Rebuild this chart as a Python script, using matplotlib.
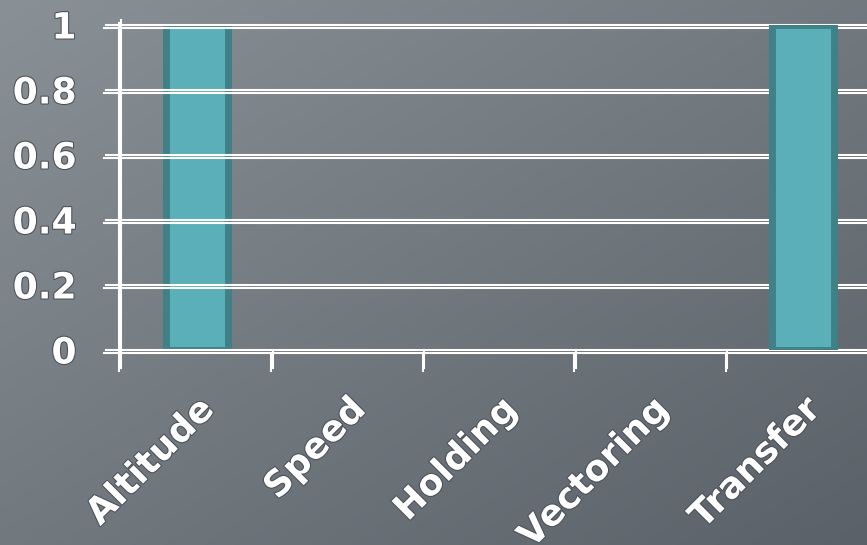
import numpy as np
import matplotlib.pyplot as plt
import matplotlib.patheffects as pe
from matplotlib.colors import LinearSegmentedColormap

categories = ["Altitude", "Speed", "Holding", "Vectoring", "Transfer"]
values = [1.0, 0.0, 0.0, 0.0, 1.0]
yticks = [0, 0.2, 0.4, 0.6, 0.8, 1]
ytick_labels = ["0", "0.2", "0.4", "0.6", "0.8", "1"]

fig = plt.figure(figsize=(8.67, 5.45), dpi=100)

# diagonal grey gradient behind everything
bg = fig.add_axes([0, 0, 1, 1], zorder=-10)
yy, xx = np.mgrid[0:1:200j, 0:1:300j]
shade = 0.5 * xx + 0.5 * yy
slate = LinearSegmentedColormap.from_list("slate", ["#899096", "#5a6168"])
bg.imshow(shade, cmap=slate, extent=[0, 1, 0, 1], aspect="auto", origin="upper")
bg.axis("off")

ax = fig.add_axes([121 / 867, 195 / 545, 758 / 867, 325 / 545])
ax.patch.set_alpha(0)

double = [pe.SimpleLineShadow(offset=(-1.2, -2.4), shadow_color="white", alpha=1.0), pe.Normal()]

x = np.arange(len(categories))
bars = ax.bar(x, values, width=0.41, color="#5aafb8", edgecolor="#3f8186", linewidth=5, zorder=2)
for b, v in zip(bars, values):
    b.set_visible(v > 0)
bars[-1].set_zorder(4)

for y in yticks:
    ax.plot([-0.6, len(categories) - 0.5], [y, y], color="white", lw=1.5, zorder=3,
            clip_on=False, path_effects=double)

ax.plot([-0.5, -0.5], [-0.055, 1.015], color="white", lw=1.5, zorder=3, clip_on=False,
        path_effects=double)
for b in np.arange(0.5, len(categories), 1.0):
    ax.plot([b, b], [-0.055, 0], color="white", lw=1.5, zorder=3, clip_on=False,
            path_effects=double)

ax.set_xlim(-0.5, len(categories) - 0.5)
ax.set_ylim(0, 1)
for s in ax.spines.values():
    s.set_visible(False)

ax.set_yticks(yticks)
ax.set_yticklabels(ytick_labels)
ax.set_xticks(x)
ax.set_xticklabels(categories, rotation=45, ha="right", rotation_mode="anchor")
ax.tick_params(axis="both", length=0, colors="white")
ax.tick_params(axis="y", pad=32, labelsize=26)
ax.tick_params(axis="x", pad=30, labelsize=26)
outline = [pe.withStroke(linewidth=1.5, foreground="#4a5058")]
for lab in ax.get_xticklabels() + ax.get_yticklabels():
    lab.set_fontweight("bold")
    lab.set_family("DejaVu Sans")
    lab.set_path_effects(outline)

fig.savefig("out.png", dpi=100)
